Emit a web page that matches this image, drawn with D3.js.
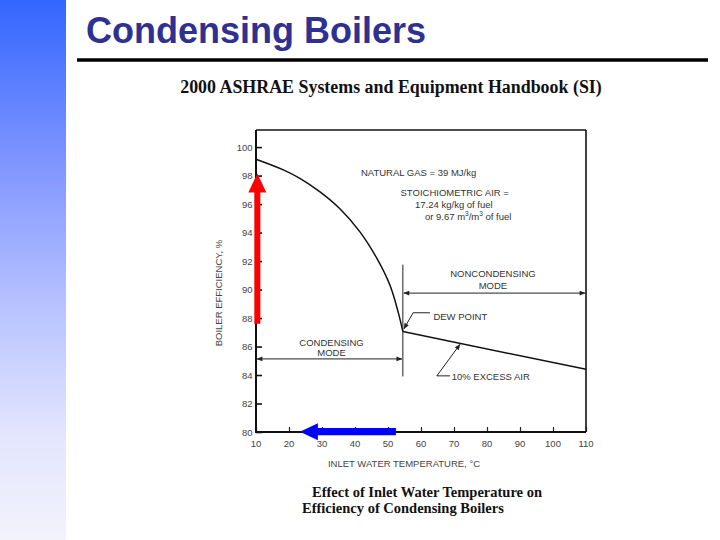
<!DOCTYPE html>
<html><head><meta charset="utf-8">
<script src="https://cdn.jsdelivr.net/npm/d3@7"></script>
<style>
html,body{margin:0;padding:0;background:#fff;}
svg{display:block;}
</style></head>
<body>
<svg id="chart" width="720" height="540"></svg>
<script>
// ---------- data ----------
const yTicks = [80, 82, 84, 86, 88, 90, 92, 94, 96, 98, 100];
const xTicks = [10, 20, 30, 40, 50, 60, 70, 80, 90, 100, 110];
// condensing branch (inlet water temperature °C -> efficiency %)
const condTemp = [10, 18.3, 23.3, 29.4, 35.5, 41.5, 46.6, 50.6, 53.1, 54.5];
const condEff  = [99.15, 98.4, 97.8, 96.85, 95.65, 94.05, 92.2, 90.3, 88.4, 87.05];
// non-condensing branch
const noncondTemp = [54.5, 110];
const noncondEff  = [87.05, 84.4];
const dewPointTemp = 54.5;
const titleText = "Condensing Boilers";
const subtitleText = "2000 ASHRAE Systems and Equipment Handbook (SI)";
const captionLines = ["Effect of Inlet Water Temperature on", "Efficiency of Condensing Boilers"];
const yLabel = "BOILER EFFICIENCY, %";
const xLabel = "INLET WATER TEMPERATURE, \u00B0C";

// ---------- layout ----------
const svg = d3.select("#chart");
const W = 720, H = 540;
const x = d3.scaleLinear().domain([10, 110]).range([256, 586]);
const y = d3.scaleLinear().domain([80, 101.2]).range([432, 130]);
const ink = "#333";

// background gradient bar
const defs = svg.append("defs");
const grad = defs.append("linearGradient").attr("id", "lg").attr("x1", 0).attr("y1", 0).attr("x2", 0).attr("y2", 1);
grad.append("stop").attr("offset", 0).attr("stop-color", "#3366ff");
grad.append("stop").attr("offset", 0.3).attr("stop-color", "#7f95ff");
grad.append("stop").attr("offset", 0.56).attr("stop-color", "#b6c1ff");
grad.append("stop").attr("offset", 0.8).attr("stop-color", "#e2e5fd");
grad.append("stop").attr("offset", 1).attr("stop-color", "#f3f3fc");
svg.append("rect").attr("x", 0).attr("y", 0).attr("width", 66).attr("height", H).attr("fill", "url(#lg)");

// arrow marker
const mk = defs.append("marker").attr("id", "ah").attr("viewBox", "0 0 10 10")
  .attr("refX", 9).attr("refY", 5).attr("markerWidth", 7).attr("markerHeight", 6)
  .attr("markerUnits", "userSpaceOnUse").attr("orient", "auto-start-reverse");
mk.append("path").attr("d", "M0,1 L10,5 L0,9 Z").attr("fill", "#222");

// title
svg.append("text").attr("x", 86).attr("y", 43).text(titleText)
  .attr("font-family", "Liberation Sans, Arial, sans-serif").attr("font-weight", "bold")
  .attr("font-size", 36).attr("fill", "#2e3192");
svg.append("line").attr("x1", 77).attr("x2", 708).attr("y1", 60).attr("y2", 60)
  .attr("stroke", "#000").attr("stroke-width", 3.5);

svg.append("text").attr("x", 391).attr("y", 93).attr("text-anchor", "middle").text(subtitleText)
  .attr("font-family", "Liberation Serif, Times New Roman, serif").attr("font-weight", "bold")
  .attr("font-size", 17.9).attr("fill", "#111");

// caption
const capX = [312, 302], capY = [497, 512.5];
captionLines.forEach((t, i) => {
  svg.append("text").attr("x", capX[i]).attr("y", capY[i]).text(t)
    .attr("font-family", "Liberation Serif, Times New Roman, serif").attr("font-weight", "bold")
    .attr("font-size", 14.5).attr("fill", "#111");
});

// frame
const g = svg.append("g");
g.append("line").attr("x1", x(10)).attr("x2", x(110)).attr("y1", y(101.2)).attr("y2", y(101.2)).attr("stroke", "#111").attr("stroke-width", 1.6);
g.append("line").attr("x1", x(110)).attr("x2", x(110)).attr("y1", y(101.2)).attr("y2", y(80)).attr("stroke", "#111").attr("stroke-width", 1.6);

// axes
const yAxis = d3.axisRight(y).tickValues(yTicks).tickSize(6).tickFormat("");
const yG = g.append("g").attr("transform", `translate(${x(10)},0)`).call(yAxis);
yG.select(".domain").remove();
yG.selectAll(".tick line").attr("stroke", "#111").attr("stroke-width", 1.6);
yTicks.forEach(v => {
  g.append("text").attr("x", 252.5).attr("y", y(v) + 3.5).attr("text-anchor", "end").text(v)
    .attr("font-family", "Liberation Sans, Arial, sans-serif").attr("font-size", 9.5).attr("fill", "#444");
});
const xAxis = d3.axisTop(x).tickValues(xTicks).tickSize(5).tickFormat("");
const xG = g.append("g").attr("transform", `translate(0,${y(80)})`).call(xAxis);
xG.select(".domain").remove();
xG.selectAll(".tick line").attr("stroke", "#222").attr("stroke-width", 1.2);
xTicks.forEach(v => {
  g.append("text").attr("x", x(v)).attr("y", 447).attr("text-anchor", "middle").text(v)
    .attr("font-family", "Liberation Sans, Arial, sans-serif").attr("font-size", 9.5).attr("fill", "#444");
});
g.append("line").attr("x1", x(10)).attr("x2", x(10)).attr("y1", y(101.2)).attr("y2", y(80) + 1).attr("stroke", "#111").attr("stroke-width", 2);
g.append("line").attr("x1", x(10) - 1).attr("x2", x(110)).attr("y1", y(80)).attr("y2", y(80)).attr("stroke", "#111").attr("stroke-width", 2);

// axis labels
g.append("text").attr("transform", `translate(222,${y(89.75)}) rotate(-90)`).attr("text-anchor", "middle").text(yLabel)
  .attr("font-family", "Liberation Sans, Arial, sans-serif").attr("font-size", 9.5).attr("fill", "#444");
g.append("text").attr("x", 404).attr("y", 466.5).attr("text-anchor", "middle").text(xLabel)
  .attr("font-family", "Liberation Sans, Arial, sans-serif").attr("font-size", 9.5).attr("fill", "#444");

// curves
const line = d3.line().x(d => x(d[0])).y(d => y(d[1])).curve(d3.curveCatmullRom.alpha(0.5));
g.append("path").datum(condTemp.map((t, i) => [t, condEff[i]])).attr("d", line)
  .attr("fill", "none").attr("stroke", "#111").attr("stroke-width", 1.5);
g.append("path").datum(noncondTemp.map((t, i) => [t, noncondEff[i]])).attr("d", d3.line().x(d => x(d[0])).y(d => y(d[1])))
  .attr("fill", "none").attr("stroke", "#111").attr("stroke-width", 1.5);

// dew point vertical line
g.append("line").attr("x1", x(dewPointTemp)).attr("x2", x(dewPointTemp)).attr("y1", y(91.75)).attr("y2", y(83.9))
  .attr("stroke", "#222").attr("stroke-width", 1);

// mode arrows
const modeArrow = (x1, x2, v) => g.append("line").attr("x1", x(x1) + 1).attr("x2", x(x2) - 1).attr("y1", y(v)).attr("y2", y(v))
  .attr("stroke", "#222").attr("stroke-width", 1).attr("marker-start", "url(#ah)").attr("marker-end", "url(#ah)");
modeArrow(10, dewPointTemp, 85.13);
modeArrow(dewPointTemp, 110, 89.75);

// annotations
const small = (t, xv, yv, anchor) => g.append("text").attr("x", x(xv)).attr("y", y(yv)).text(t)
  .attr("text-anchor", anchor || "start").attr("font-family", "Liberation Sans, Arial, sans-serif")
  .attr("font-size", 9.5).attr("fill", ink);
small("NATURAL GAS = 39 MJ/kg", 41.8, 97.95);
small("STOICHIOMETRIC AIR =", 53.8, 96.55);
small("17.24 kg/kg of fuel", 58.2, 95.72);
const t3 = small("", 61.2, 94.91);
t3.append("tspan").text("or 9.67 m");
t3.append("tspan").text("3").attr("font-size", 6.5).attr("dy", -3.5);
t3.append("tspan").text("/m").attr("dy", 3.5);
t3.append("tspan").text("3").attr("font-size", 6.5).attr("dy", -3.5);
t3.append("tspan").text(" of fuel").attr("dy", 3.5);
small("NONCONDENSING", 81.8, 90.85, "middle");
small("MODE", 81.8, 90.06, "middle");
small("CONDENSING", 32.9, 86.07, "middle");
small("MODE", 32.9, 85.34, "middle");
small("DEW POINT", 63.75, 87.83);
small("10% EXCESS AIR", 69.3, 83.66);

const leader = pts => g.append("path").datum(pts).attr("d", d3.line().x(d => x(d[0])).y(d => y(d[1])))
  .attr("fill", "none").attr("stroke", "#222").attr("stroke-width", 1).attr("marker-end", "url(#ah)");
leader([[62.7, 88.37], [57.6, 88.37], [54.85, 87.25]]);
leader([[68.8, 83.94], [64.8, 83.94], [71.8, 86.15]]);

// red (vertical) and blue (horizontal) overlay arrows
const redArrow = {temp: 10.4, from: 87.6, to: 98.15};
const blueArrow = {eff: 80.02, from: 52.4, to: 23.3};
{
  const cx = x(redArrow.temp), yb = y(redArrow.from), yt = y(redArrow.to);
  const hw = 9, sw = 3, hl = 19;
  g.append("path").attr("d", `M${cx - sw},${yb} L${cx - sw},${yt + hl} L${cx - hw},${yt + hl} L${cx},${yt} L${cx + hw},${yt + hl} L${cx + sw},${yt + hl} L${cx + sw},${yb} Z`)
    .attr("fill", "#ff0000");
}
{
  const cy = y(blueArrow.eff), xr = x(blueArrow.from), xl = x(blueArrow.to);
  const hw = 8.5, sw = 3.6, hl = 18;
  g.append("path").attr("d", `M${xr},${cy - sw} L${xl + hl},${cy - sw} L${xl + hl},${cy - hw} L${xl},${cy} L${xl + hl},${cy + hw} L${xl + hl},${cy + sw} L${xr},${cy + sw} Z`)
    .attr("fill", "#0000ff");
}
</script>
</body></html>
